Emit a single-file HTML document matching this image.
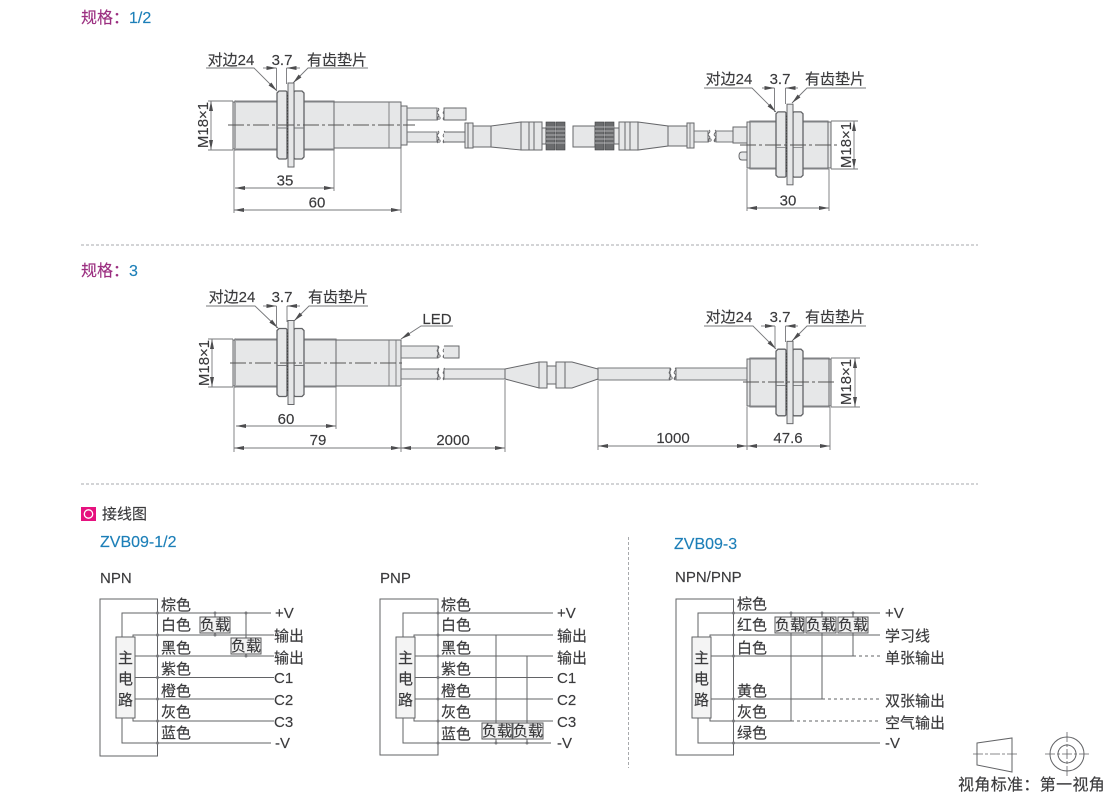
<!DOCTYPE html>
<html lang="zh"><head><meta charset="utf-8"><title>规格</title>
<style>
html,body{margin:0;padding:0;background:#fff}
svg{display:block}
text{font-family:"Liberation Sans","Noto Sans CJK SC",sans-serif;font-size:15px;fill:#3a3a3c;stroke:#3a3a3c;stroke-width:.15}
.c{text-anchor:middle}
.t{font-size:16px}
.p{fill:#9b2f80;stroke:#9b2f80}.b{fill:#1c7fb8;stroke:#1c7fb8}
.m{stroke:#66676a;stroke-width:1;fill:#e6e7e8}
.n{stroke:#626366;stroke-width:1.300;fill:#e6e7e8}
.l{stroke:#77787b;stroke-width:.9;fill:none}
.e{stroke:#808285;stroke-width:2;fill:none}
.w{stroke:#626366;stroke-width:1;fill:none}
.lb{fill:#f3f3f3;stroke:#58595b;stroke-width:1}
</style></head><body>
<svg width="1110" height="795" viewBox="0 0 1110 795" xmlns="http://www.w3.org/2000/svg">
<defs>
<marker id="ae" markerUnits="userSpaceOnUse" markerWidth="10" markerHeight="4" refX="10" refY="2" orient="auto"><path d="M0 0L10 2L0 4z" fill="#4d4d4f"/></marker>
<marker id="as" markerUnits="userSpaceOnUse" markerWidth="10" markerHeight="4" refX="0" refY="2" orient="auto"><path d="M10 0L0 2L10 4z" fill="#4d4d4f"/></marker>
<g id="nuts">
<path class="n" d="M0-32L2-34H9L10-33V33L9 34H2L0 32z"/>
<path class="n" d="M17-33L18-34H25L27-32V32L25 34H18L17 33z"/>
<path class="l" d="M0 3H10M17 3H27"/>
<rect class="m" x="11" y="-42" width="6" height="84"/>
<path d="M10.5-30V30" stroke="#444" stroke-width="1.200" stroke-dasharray="1.500 1.500"/>
</g>
<g id="brk"><path d="M0-6c3 2-3 4 0 6c3 2-3 4 0 6" fill="none" stroke="#66676a"/><circle cx="1" cy="4" r="1.200" fill="#fff" stroke="#66676a" stroke-width=".8"/></g>
<g id="dot"><circle r="1.500" fill="#77787b"/></g>
</defs>

<!-- titles -->
<text x="81" y="23" class="p t">规格：<tspan class="b">1/2</tspan></text>
<text x="81" y="276" class="p t">规格：<tspan class="b">3</tspan></text>
<path d="M81 245H978M81 484H978" stroke="#a7a9ac" stroke-dasharray="3 2" fill="none"/>
<path d="M628.500 537V768" stroke="#a7a9ac" stroke-dasharray="3 2" fill="none"/>

<!-- Sensor 1 -->
<rect class="m" x="233" y="102" width="3" height="47"/>
<rect class="m" x="235" y="101" width="99" height="49"/>
<path class="e" d="M236 101.500H334M236 149.500H334"/>
<rect class="m" x="334" y="102" width="67" height="46"/>
<path class="l" d="M389 102V148"/>
<rect class="m" x="401" y="106" width="6" height="39"/>
<rect x="407" y="108" width="30" height="12" class="m" stroke="none"/><path class="l" d="M407 108H437M407 120H437"/>
<rect x="407" y="132" width="30" height="10" class="m" stroke="none"/><path class="l" d="M407 132H437M407 142H437"/>
<use href="#brk" x="438" y="114"/><use href="#brk" x="444" y="114"/>
<use href="#brk" x="438" y="137"/><use href="#brk" x="444" y="137"/>
<path class="m" d="M444 108H466V120H444z"/>
<path class="m" d="M444 132H466V142H444"/>
<use href="#nuts" x="277" y="125"/>
<path d="M228 125H415" stroke="#555" stroke-width=".9" stroke-dasharray="16 3 3 3" fill="none"/>
<text x="231" y="65" class="c">对边24</text>
<text x="282" y="65" class="c">3.7</text>
<text x="337" y="65" class="c">有齿垫片</text>
<path class="l" d="M206 68H254L277 91" marker-end="url(#ae)"/>
<path class="l" d="M368 68H308L293 83" marker-end="url(#ae)"/>
<path class="l" d="M276.500 68V91M286.500 68V84"/>
<path class="l" d="M263 68H276.500" marker-end="url(#ae)"/>
<path class="l" d="M300 68H286.500" marker-end="url(#ae)"/>
<path class="l" d="M208 101H233M208 150H233M234 150V213M334 150V191M401 148V213"/>
<path class="l" d="M211 101V150" marker-start="url(#as)" marker-end="url(#ae)"/>
<text transform="translate(208,125) rotate(-90)" class="c">M18×1</text>
<path class="l" d="M235 188H334" marker-start="url(#as)" marker-end="url(#ae)"/>
<text x="285" y="185.500" class="c">35</text>
<path class="l" d="M234 210H401" marker-start="url(#as)" marker-end="url(#ae)"/>
<text x="317" y="207.500" class="c">60</text>

<!-- connector left -->
<rect class="m" x="473" y="126" width="18" height="21"/>
<path class="m" d="M491 126L521 122V150L491 147z"/>
<rect class="m" x="465" y="123" width="3" height="25"/><rect class="m" x="468" y="123" width="5" height="25"/>
<rect class="m" x="521" y="122" width="8" height="28"/><rect class="m" x="529" y="122" width="5" height="28"/><rect class="m" x="534" y="122" width="8" height="28"/>
<rect class="m" x="542" y="128" width="4" height="16"/>
<g fill="#6a6b6d" stroke="#3f3f41" stroke-width=".6"><rect x="546" y="122" width="9" height="28"/><rect x="556" y="122" width="9" height="28"/></g>
<path d="M546 127H565M546 131H565M546 135H565M546 139H565M546 143H565" stroke="#c8c8ca" stroke-width=".8"/>
<!-- connector right -->
<rect class="m" x="573" y="126" width="22" height="21"/>
<g fill="#6a6b6d" stroke="#3f3f41" stroke-width=".6"><rect x="595" y="122" width="9" height="28"/><rect x="605" y="122" width="9" height="28"/></g>
<path d="M595 127H614M595 131H614M595 135H614M595 139H614M595 143H614" stroke="#c8c8ca" stroke-width=".8"/>
<rect class="m" x="614" y="128" width="5" height="16"/>
<rect class="m" x="619" y="122" width="6" height="28"/><rect class="m" x="625" y="122" width="5" height="28"/><rect class="m" x="630" y="122" width="8" height="28"/>
<path class="m" d="M638 122L668 126V146L638 150z"/>
<rect class="m" x="668" y="126" width="19" height="20"/>
<rect class="m" x="687" y="123" width="7" height="25"/><path class="l" d="M690 123V148"/>
<rect x="694" y="131" width="14" height="11" class="m" stroke="none"/><path class="l" d="M694 131H708M694 142H708"/>
<use href="#brk" x="709" y="136"/><use href="#brk" x="715" y="136"/>
<rect x="716" y="131" width="17" height="11" class="m" stroke="none"/><path class="l" d="M716 131H733M716 142H733"/>

<!-- Sensor 1 right -->
<path class="m" d="M733 127H747V143H733z"/>
<path class="m" d="M747 152H742Q739 152 739 156T742 160H747z"/>
<rect class="m" x="747" y="122" width="3" height="46"/>
<rect class="m" x="750" y="121" width="78" height="48"/>
<path class="e" d="M750 121.500H828M750 168.500H828"/>
<rect class="m" x="828" y="122" width="3" height="46"/>
<g transform="translate(776,144.500) scale(1,.96)"><use href="#nuts"/></g>
<path d="M740 145H838" stroke="#555" stroke-width=".9" stroke-dasharray="16 3 3 3" fill="none"/>
<text x="729" y="84" class="c">对边24</text>
<text x="780" y="84" class="c">3.7</text>
<text x="835" y="84" class="c">有齿垫片</text>
<path class="l" d="M704 88H752L776 112" marker-end="url(#ae)"/>
<path class="l" d="M866 88H807L792 103" marker-end="url(#ae)"/>
<path class="l" d="M774.500 88V112M785.500 88V104"/>
<path class="l" d="M762 88H774.500" marker-end="url(#ae)"/>
<path class="l" d="M798 88H785.500" marker-end="url(#ae)"/>
<path class="l" d="M831 121H858M831 169H858M747 169V211M829 169V211"/>
<path class="l" d="M854 121V169" marker-start="url(#as)" marker-end="url(#ae)"/>
<text transform="translate(851,145) rotate(-90)" class="c">M18×1</text>
<path class="l" d="M747 208H829" marker-start="url(#as)" marker-end="url(#ae)"/>
<text x="788" y="205.500" class="c">30</text>

<!-- Sensor 2 -->
<rect class="m" x="233" y="340" width="3" height="46"/>
<rect class="m" x="235" y="339" width="101" height="48"/>
<path class="e" d="M236 339.500H336M236 386.500H336"/>
<rect class="m" x="336" y="340" width="65" height="46"/>
<path class="l" d="M389 340V386M396 340V386"/>
<rect x="401" y="346" width="37" height="12" class="m" stroke="none"/><path class="l" d="M401 346H438M401 358H438"/>
<rect x="401" y="369" width="37" height="10" class="m" stroke="none"/><path class="l" d="M401 369H438M401 379H438"/>
<use href="#brk" x="438" y="352"/><use href="#brk" x="444" y="352"/>
<use href="#brk" x="438" y="374"/><use href="#brk" x="444" y="374"/>
<path class="m" d="M444 346H459V358H444"/>
<rect x="444" y="369" width="61" height="10" class="m" stroke="none"/><path class="l" d="M444 369H505M444 379H505"/>
<use href="#nuts" x="277" y="362.500"/>
<path d="M230 363H404" stroke="#555" stroke-width=".9" stroke-dasharray="16 3 3 3" fill="none"/>
<text x="232" y="302" class="c">对边24</text>
<text x="282" y="302" class="c">3.7</text>
<text x="338" y="302" class="c">有齿垫片</text>
<path class="l" d="M206 306H255L278 328" marker-end="url(#ae)"/>
<path class="l" d="M368 306H309L294 321" marker-end="url(#ae)"/>
<path class="l" d="M276.500 306V328M287 306V322"/>
<path class="l" d="M263 306H276.500" marker-end="url(#ae)"/>
<path class="l" d="M300 306H287" marker-end="url(#ae)"/>
<text x="437" y="324" class="c">LED</text>
<path class="l" d="M453 326H421L401 339" marker-end="url(#ae)"/>
<path class="l" d="M208 339H233M208 387H233M234 387V452M336 387V429M401 387V452M505 380V452"/>
<path class="l" d="M212 339V387" marker-start="url(#as)" marker-end="url(#ae)"/>
<text transform="translate(209,363) rotate(-90)" class="c">M18×1</text>
<path class="l" d="M236 426H336" marker-start="url(#as)" marker-end="url(#ae)"/>
<text x="286" y="424" class="c">60</text>
<path class="l" d="M234 448H401" marker-start="url(#as)" marker-end="url(#ae)"/>
<text x="318" y="445" class="c">79</text>
<path class="l" d="M401 448H505" marker-start="url(#as)" marker-end="url(#ae)"/>
<text x="453" y="445" class="c">2000</text>

<!-- mid connector -->
<path class="m" d="M505 369L539 362V388L505 379z"/>
<rect class="m" x="539" y="362" width="8" height="26"/>
<rect class="m" x="547" y="366" width="9" height="18"/>
<rect class="m" x="556" y="362" width="9" height="26"/>
<path class="m" d="M565 362H572L598 369V379L572 388H565z"/>
<rect x="598" y="368" width="72" height="12" class="m" stroke="none"/><path class="l" d="M598 368H670M598 380H670"/>
<use href="#brk" x="670" y="374"/><use href="#brk" x="675" y="374"/>
<rect x="676" y="368" width="71" height="12" class="m" stroke="none"/><path class="l" d="M676 368H747M676 380H747"/>

<!-- Sensor 2 right -->
<rect class="m" x="747" y="359" width="3" height="47"/>
<rect class="m" x="750" y="358" width="79" height="49"/>
<path class="e" d="M750 358.500H829M750 406.500H829"/>
<rect class="m" x="829" y="359" width="2" height="47"/>
<g transform="translate(776,382.500) scale(1,.98)"><use href="#nuts"/></g>
<path d="M743 382H837" stroke="#555" stroke-width=".9" stroke-dasharray="16 3 3 3" fill="none"/>
<text x="729" y="322" class="c">对边24</text>
<text x="780" y="322" class="c">3.7</text>
<text x="835" y="322" class="c">有齿垫片</text>
<path class="l" d="M704 326H753L776 349" marker-end="url(#ae)"/>
<path class="l" d="M866 326H807L792 341" marker-end="url(#ae)"/>
<path class="l" d="M775 326V349M785.500 326V342"/>
<path class="l" d="M761 326H775" marker-end="url(#ae)"/>
<path class="l" d="M798 326H785.500" marker-end="url(#ae)"/>
<path class="l" d="M831 358H860M831 407H860M598 381V450M747 407V450M830 407V450"/>
<path class="l" d="M855 358V407" marker-start="url(#as)" marker-end="url(#ae)"/>
<text transform="translate(851,382) rotate(-90)" class="c">M18×1</text>
<path class="l" d="M598 446H747" marker-start="url(#as)" marker-end="url(#ae)"/>
<text x="673" y="443" class="c">1000</text>
<path class="l" d="M747 446H830" marker-start="url(#as)" marker-end="url(#ae)"/>
<text x="788" y="443" class="c">47.6</text>

<!-- heading -->
<rect x="81" y="507" width="15" height="14" fill="#e6127f"/>
<circle cx="88.500" cy="514" r="4.200" fill="none" stroke="#fff" stroke-width="1.300"/>
<text x="102" y="519">接线图</text>
<text x="100" y="547" class="b t">ZVB09-1/2</text>
<text x="674" y="549" class="b t">ZVB09-3</text>
<text x="100" y="583">NPN</text>
<text x="380" y="583">PNP</text>
<text x="675" y="582">NPN/PNP</text>

<!-- Wiring NPN -->
<rect class="w" x="100" y="599" width="57.500" height="157"/>
<rect x="116" y="637" width="19" height="81" fill="#f4f4f4" stroke="#626366"/>
<path class="w" d="M122 637V613H271M133 637V635H274M135 656H274M135 677.500H274M135 699H274M133 718V721H274M122 718V743H271"/>
<path class="w" d="M215 613V617M215 633V635M246 613V638M246 654V656"/>
<rect class="lb" x="200" y="617" width="30" height="16"/><rect class="lb" x="231" y="638" width="30" height="16"/>
<text x="200" y="630">负载</text><text x="231" y="651">负载</text>
<g><use href="#dot" x="157.500" y="613"/><use href="#dot" x="157.500" y="635"/><use href="#dot" x="157.500" y="656"/><use href="#dot" x="157.500" y="677.500"/><use href="#dot" x="157.500" y="699"/><use href="#dot" x="157.500" y="721"/><use href="#dot" x="157.500" y="743"/><use href="#dot" x="215" y="613"/><use href="#dot" x="215" y="635"/><use href="#dot" x="246" y="613"/><use href="#dot" x="246" y="656"/></g>
<text x="125.500" y="663" class="c">主</text><text x="125.500" y="684" class="c">电</text><text x="125.500" y="705" class="c">路</text>
<text x="161" y="610">棕色</text><text x="161" y="630">白色</text><text x="161" y="653">黑色</text><text x="161" y="674">紫色</text><text x="161" y="696">橙色</text><text x="161" y="717">灰色</text><text x="161" y="738">蓝色</text>
<text x="275" y="618">+V</text><text x="274" y="641">输出</text><text x="274" y="663">输出</text><text x="274" y="683">C1</text><text x="274" y="705">C2</text><text x="274" y="727">C3</text><text x="275" y="748">-V</text>

<!-- Wiring PNP -->
<rect class="w" x="380" y="599" width="58" height="156"/>
<rect x="396" y="637" width="19" height="81" fill="#f4f4f4" stroke="#626366"/>
<path class="w" d="M403 637V613H553M414 637V635H553M415 656H553M415 677.500H553M415 699H553M414 718V721H553M403 718V743H551"/>
<path class="w" d="M496 635V723M496 739V743M527 656V723M527 739V743"/>
<rect class="lb" x="482" y="723" width="30" height="16"/><rect class="lb" x="513" y="723" width="30" height="16"/>
<text x="482" y="736">负载</text><text x="513" y="736">负载</text>
<use href="#dot" x="438" y="613"/><use href="#dot" x="438" y="635"/><use href="#dot" x="438" y="656"/><use href="#dot" x="438" y="677.500"/><use href="#dot" x="438" y="699"/><use href="#dot" x="438" y="721"/><use href="#dot" x="438" y="743"/><use href="#dot" x="496" y="743"/><use href="#dot" x="527" y="743"/>
<text x="405.500" y="663" class="c">主</text><text x="405.500" y="684" class="c">电</text><text x="405.500" y="705" class="c">路</text>
<text x="441" y="610">棕色</text><text x="441" y="630">白色</text><text x="441" y="653">黑色</text><text x="441" y="674">紫色</text><text x="441" y="696">橙色</text><text x="441" y="717">灰色</text><text x="441" y="739">蓝色</text>
<text x="557" y="618">+V</text><text x="557" y="641">输出</text><text x="557" y="663">输出</text><text x="557" y="683">C1</text><text x="557" y="705">C2</text><text x="557" y="727">C3</text><text x="557" y="748">-V</text>

<!-- Wiring NPN/PNP -->
<rect class="w" x="676" y="599" width="57.500" height="156"/>
<rect x="692" y="637" width="19" height="81" fill="#f4f4f4" stroke="#626366"/>
<path class="w" d="M698 637V613H880M710 637V635H880M711 656H853M711 699H822M710 718V721H791M698 718V743H880"/>
<path d="M853 656H880M822 699H880M791 721H880" stroke="#626366" stroke-width=".9" stroke-dasharray="3 3" fill="none"/>
<path class="w" d="M791 613V617M791 633V721M822 613V617M822 633V699M853 613V617M853 633V656"/>
<rect class="lb" x="775" y="617" width="29" height="16"/><rect class="lb" x="806" y="617" width="30" height="16"/><rect class="lb" x="838" y="617" width="30" height="16"/>
<text x="775" y="630">负载</text><text x="806" y="630">负载</text><text x="838" y="630">负载</text>
<use href="#dot" x="733.500" y="613"/><use href="#dot" x="733.500" y="635"/><use href="#dot" x="733.500" y="656"/><use href="#dot" x="733.500" y="699"/><use href="#dot" x="733.500" y="721"/><use href="#dot" x="733.500" y="743"/><use href="#dot" x="791" y="613"/><use href="#dot" x="822" y="613"/><use href="#dot" x="853" y="613"/>
<text x="701.500" y="663" class="c">主</text><text x="701.500" y="684" class="c">电</text><text x="701.500" y="705" class="c">路</text>
<text x="737" y="609">棕色</text><text x="737" y="630">红色</text><text x="737" y="653">白色</text><text x="737" y="696">黄色</text><text x="737" y="717">灰色</text><text x="737" y="738">绿色</text>
<text x="885" y="618">+V</text><text x="885" y="641">学习线</text><text x="885" y="663">单张输出</text><text x="885" y="706">双张输出</text><text x="885" y="728">空气输出</text><text x="885" y="748">-V</text>

<!-- view -->
<path class="w" d="M977 743L1012 738V772L977 765z"/>
<path d="M973 754H1017" stroke="#626366" stroke-width=".8" stroke-dasharray="10 2 3 2" fill="none"/>
<circle class="w" cx="1067" cy="754" r="17"/><circle class="w" cx="1067" cy="754" r="9"/>
<path d="M1045 754H1089M1067 732V776" stroke="#626366" stroke-width=".8" stroke-dasharray="10 2 3 2" fill="none"/>
<text x="958" y="790" style="font-size:16px;letter-spacing:.35px">视角标准：第一视角</text>
</svg>
</body></html>
